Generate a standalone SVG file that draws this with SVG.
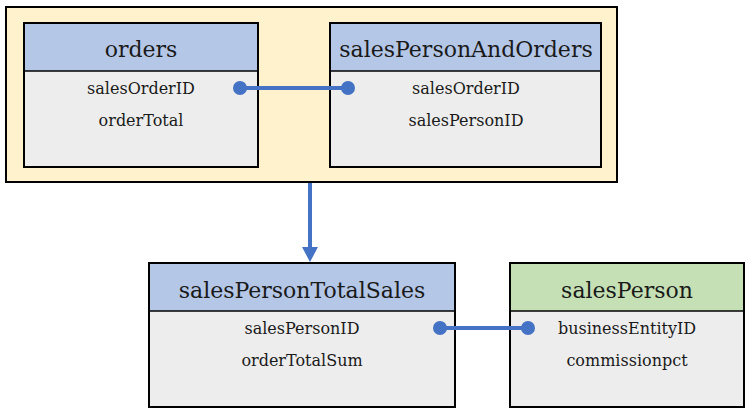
<svg xmlns="http://www.w3.org/2000/svg" width="751" height="413" viewBox="0 0 751 413">
<style>
.box{stroke:#000;stroke-width:2}
.body{fill:#ededed}
.hdr{fill:#b4c7e7}
.hdrg{fill:#c5e0b4}
.sep{stroke:#000;stroke-width:1.5}
.title{font-family:"DejaVu Serif","Liberation Serif",serif;font-size:22px;fill:#1a1a1a;text-anchor:middle}
.field{font-family:"DejaVu Serif","Liberation Serif",serif;font-size:16px;fill:#1a1a1a;text-anchor:middle}
.conn{stroke:#4472c4;stroke-width:4;fill:none}
.dot{fill:#4472c4}
</style>
<rect id="group" x="6" y="7" width="611" height="175" fill="#fff2cc" stroke="#000" stroke-width="2"/>
<g id="orders">
<rect class="box body" x="24" y="23" width="234" height="144"/>
<rect class="hdr" x="25" y="24" width="232" height="47"/>
<line class="sep" x1="24" y1="71" x2="258" y2="71"/>
<rect x="24" y="23" width="234" height="144" fill="none" stroke="#000" stroke-width="2"/>
<text class="title" x="141" y="57">orders</text>
<text class="field" x="141" y="94">salesOrderID</text>
<text class="field" x="141" y="126">orderTotal</text>
</g>
<g id="salesPersonAndOrders">
<rect class="box body" x="330" y="23" width="271" height="144"/>
<rect class="hdr" x="331" y="24" width="269" height="47"/>
<line class="sep" x1="330" y1="71" x2="601" y2="71"/>
<rect x="330" y="23" width="271" height="144" fill="none" stroke="#000" stroke-width="2"/>
<text class="title" x="466" y="57">salesPersonAndOrders</text>
<text class="field" x="466" y="94">salesOrderID</text>
<text class="field" x="466" y="126">salesPersonID</text>
</g>
<g id="salesPersonTotalSales">
<rect class="box body" x="149" y="263" width="306" height="144"/>
<rect class="hdr" x="150" y="264" width="304" height="47"/>
<line class="sep" x1="149" y1="311" x2="455" y2="311"/>
<rect x="149" y="263" width="306" height="144" fill="none" stroke="#000" stroke-width="2"/>
<text class="title" x="302" y="298">salesPersonTotalSales</text>
<text class="field" x="302" y="334">salesPersonID</text>
<text class="field" x="302" y="366">orderTotalSum</text>
</g>
<g id="salesPerson">
<rect class="box body" x="510" y="263" width="234" height="144"/>
<rect class="hdrg" x="511" y="264" width="232" height="47"/>
<line class="sep" x1="510" y1="311" x2="744" y2="311"/>
<rect x="510" y="263" width="234" height="144" fill="none" stroke="#000" stroke-width="2"/>
<text class="title" x="627" y="298">salesPerson</text>
<text class="field" x="627" y="334">businessEntityID</text>
<text class="field" x="627" y="366">commissionpct</text>
</g>
<g id="connectors">
<line class="conn" x1="240" y1="88" x2="348" y2="88"/>
<circle class="dot" cx="240" cy="88" r="7"/>
<circle class="dot" cx="348" cy="88" r="7"/>
<line class="conn" x1="440" y1="328" x2="528" y2="328"/>
<circle class="dot" cx="440" cy="328" r="7"/>
<circle class="dot" cx="528" cy="328" r="7"/>
<line class="conn" x1="310" y1="183" x2="310" y2="250"/>
<polygon class="dot" points="302,247 318,247 310,262"/>
</g>
</svg>
